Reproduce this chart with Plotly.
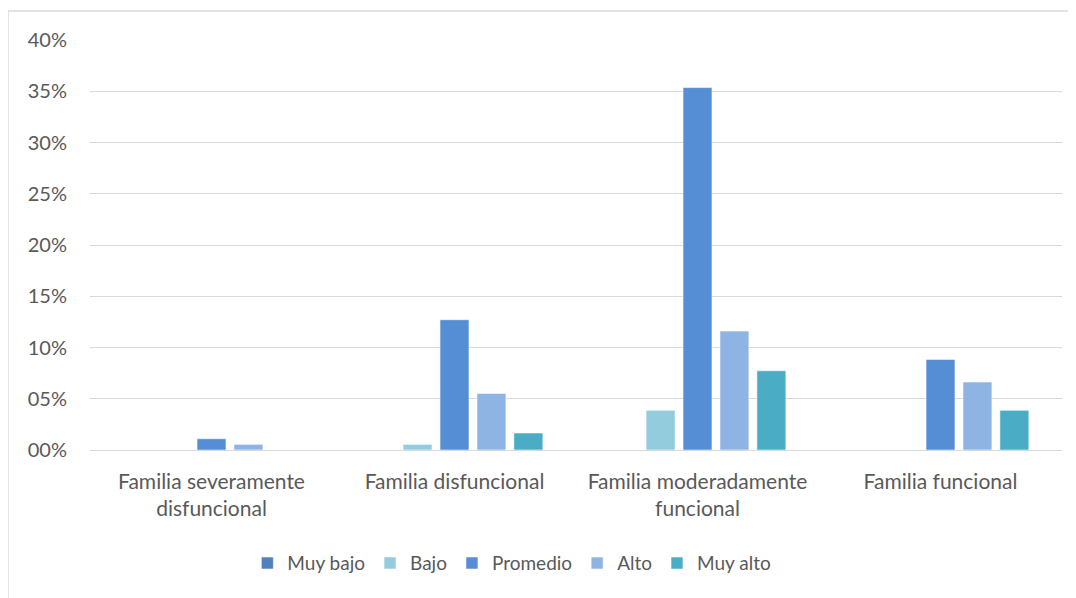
import plotly.graph_objects as go

categories = ["Familia severamente<br>disfuncional", "Familia disfuncional",
              "Familia moderadamente<br>funcional", "Familia funcional"]
series_names = ["Muy bajo", "Bajo", "Promedio", "Alto", "Muy alto"]
muy_bajo = [0.0, 0.0, 0.0, 0.0]
bajo = [0.0, 0.0055, 0.0387, 0.0]
promedio = [0.0110, 0.1271, 0.3536, 0.0884]
alto = [0.0055, 0.0552, 0.1160, 0.0663]
muy_alto = [0.0, 0.0166, 0.0773, 0.0387]
tick_vals = [0, 0.05, 0.10, 0.15, 0.20, 0.25, 0.30, 0.35, 0.40]
tick_text = ["00%", "05%", "10%", "15%", "20%", "25%", "30%", "35%", "40%"]

colors = ["#4F81BD", "#93CDDD", "#558ED5", "#8EB4E3", "#4BACC6"]
series = [muy_bajo, bajo, promedio, alto, muy_alto]

FONT = "Lato"
fig = go.Figure()
for name, vals, col in zip(series_names, series, colors):
    fig.add_trace(go.Bar(
        name=name, x=categories, y=vals,
        marker=dict(color=col, line=dict(color="rgba(255,255,255,0.55)", width=1)),
    ))

fig.update_layout(
    width=1076, height=598,
    margin=dict(l=82, r=22, t=32, b=156),
    barmode="group", bargap=0.24, bargroupgap=0.216,
    plot_bgcolor="white", paper_bgcolor="white",
    font=dict(family=FONT, color="#595959", size=19),
    showlegend=True,
    legend=dict(orientation="h", x=0.434, xanchor="center", y=-0.276, yanchor="middle",
                font=dict(family=FONT, size=19, color="#595959"), traceorder="normal"),
    shapes=[dict(type="rect", xref="paper", yref="paper",
                 x0=-0.0844, x1=1.2, y0=-0.6, y1=1.0707,
                 line=dict(color="#d9d9d9", width=1.5), fillcolor="rgba(0,0,0,0)", layer="below")],
)
fig.update_yaxes(range=[0, 0.40], tickvals=tick_vals, ticktext=tick_text,
                 showgrid=True, gridcolor="#d9d9d9", gridwidth=1.3,
                 zeroline=True, zerolinecolor="#d9d9d9", zerolinewidth=1.3,
                 showline=False, ticks="", ticklabelstandoff=22,
                 tickfont=dict(family=FONT, size=20, color="#595959"))
fig.update_xaxes(showline=False, ticks="", showgrid=False, ticklabelstandoff=17,
                 tickfont=dict(family=FONT, size=21, color="#595959"))

fig.write_html("out.html")
